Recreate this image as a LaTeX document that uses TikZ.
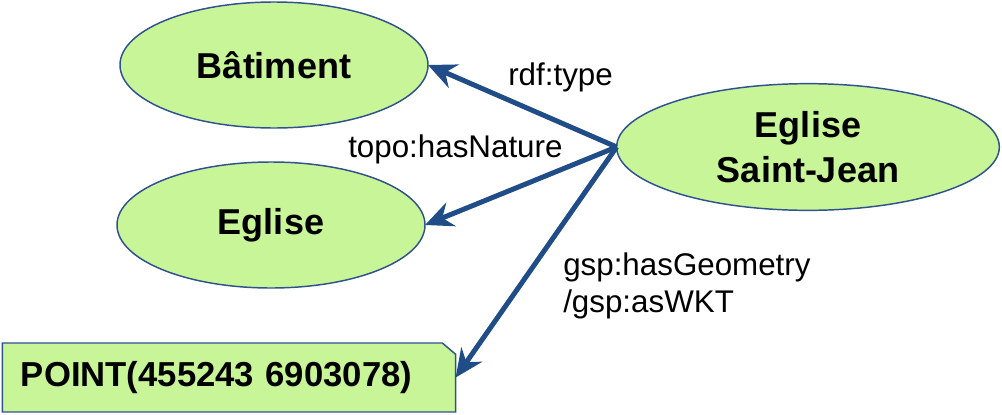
\documentclass[tikz,border=0pt]{standalone}
\usepackage{fontspec}
\setmainfont{Liberation Sans}
\usetikzlibrary{arrows.meta, shapes.geometric, backgrounds}
\definecolor{nodegreen}{HTML}{C8F598}
\definecolor{edgeblue}{HTML}{2F528F}
\definecolor{arrowblue}{HTML}{204D87}

\begin{document}
\begin{tikzpicture}[
  x=0.75pt, y=-0.75pt,
  >={Stealth[length=21pt, width=19pt, inset=7pt]},
  concept/.style={ellipse, draw=edgeblue, fill=nodegreen, line width=1.1pt,
    inner sep=0pt, outer sep=0pt, align=center,
    font=\fontsize{27}{34}\selectfont\bfseries},
  literal/.style={rectangle, inner xsep=14pt, inner ysep=0pt, outer sep=0pt,
    text width=312pt, minimum height=51.75pt, align=left,
    font=\fontsize{26}{31}\selectfont\bfseries},
  prop/.style={font=\fontsize{23.5}{27.5}\selectfont, inner sep=0pt,
    align=left},
  link/.style={->, arrowblue, line width=3.75pt},
]

% Frame
\useasboundingbox (0,0) rectangle (1002,414);

% =============================================
% Resources
% =============================================

\node[concept, minimum width=231pt, minimum height=94.5pt] (batiment)
  at (274,65) {Bâtiment};

\node[concept, minimum width=231pt, minimum height=94.5pt] (eglise)
  at (271,225) {Eglise};

\node[concept, minimum width=287pt, minimum height=95pt] (stjean)
  at (808,147) {Eglise\\Saint-Jean};

% Geometry literal, box with the top right corner cut off
\node[literal] (point) at (229,377.5) {POINT(455243 6903078)};
\begin{scope}[on background layer]
  \filldraw[fill=nodegreen, draw=edgeblue, line width=1.1pt]
    (point.south west) -- (point.north west)
    -- ([xshift=-10pt]point.north east)
    -- ([yshift=-8.5pt]point.north east)
    -- (point.south east) -- cycle;
\end{scope}

% =============================================
% Properties
% =============================================

\draw[link] (stjean.west) -- (batiment.east);
\draw[link] (stjean.west) -- (eglise.east);
\draw[link] (stjean.west) -- (point.east);

% Labels
\node[prop, anchor=base west] (type) at (508,85) {rdf:type};
\node[prop, anchor=base west] (nature) at (348,157) {topo:hasNature};
\node[prop, anchor=base west] (geom) at (563,312)
  {gsp:hasGeometry\\/gsp:asWKT};

\end{tikzpicture}
\end{document}
